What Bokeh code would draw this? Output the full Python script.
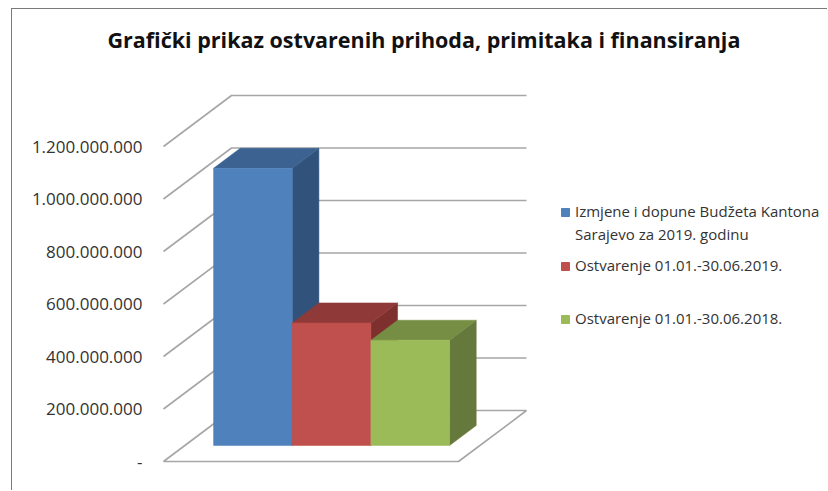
from bokeh.embed import file_html
from bokeh.resources import INLINE
from bokeh.plotting import figure
from bokeh.models import LinearAxis, FixedTicker, Range1d
from bokeh.core.properties import value

# ---- data ----
chart_title = "Grafički prikaz ostvarenih prihoda, primitaka i finansiranja"
series_names = ["Izmjene i dopune Budžeta Kantona\nSarajevo za 2019. godinu",
                "Ostvarenje 01.01.-30.06.2019.",
                "Ostvarenje 01.01.-30.06.2018."]
series_values = [1056000000, 467000000, 401000000]
tick_values = [0, 200000000, 400000000, 600000000, 800000000, 1000000000, 1200000000]
tick_labels = ["-", "200.000.000", "400.000.000", "600.000.000", "800.000.000",
               "1.000.000.000", "1.200.000.000"]
front_colors = ["#4F81BD", "#C0504D", "#9BBB59"]
top_colors = ["#3B6290", "#8F3A38", "#758E43"]
side_colors = ["#31527B", "#7D302E", "#66793C"]

# ---- layout (page pixels) ----
PAGE_W, PAGE_H = 828, 491
OX, OY = 12, 9                   # where the canvas starts, inside its CSS frame
TOP = 60
X0_PX, Y0_PX = 163, 461          # front-left floor corner, value 0
BAR_PX = 78.67                   # px per bar width
VAL_PER_PX = 200000000 / 52.5    # value per vertical pixel
DEPTH_X = 68 / BAR_PX            # full depth, in x units
DEPTH_Y = 51 * VAL_PER_PX        # full depth, in value units
FLOOR_W = 295 / BAR_PX
BAR_X0 = 0.365
BAR_D0, BAR_D1 = 0.314, 0.706
GRID = "#A6A6A6"


def px_x(px):
    return (px - X0_PX) / BAR_PX


def px_y(py):
    return (Y0_PX - py) * VAL_PER_PX


def proj(x, v, d):
    return x + d * DEPTH_X, v + d * DEPTH_Y


p = figure(width=PAGE_W - OX, height=PAGE_H - OY, output_backend="svg", toolbar_location=None,
           x_range=Range1d(px_x(OX), px_x(PAGE_W)),
           y_range=Range1d(px_y(PAGE_H), px_y(TOP)),
           x_axis_type=None, y_axis_type=None,
           min_border=0, min_border_top=TOP - OY, outline_line_color=None,
           background_fill_color="white", border_fill_color="white",
           styles={"margin-left": f"{OX - 1}px", "margin-top": f"{OY - 1}px",
                   "border-left": "1px solid #7A7A7A", "border-top": "1px solid #7A7A7A"})
p.grid.visible = False

p.title.text = chart_title
p.title.align = "left"
p.title.offset = 107 - OX
p.title.standoff = 14
p.title.text_font = "Open Sans"
p.title.text_font_style = "bold"
p.title.text_font_size = "21.5px"
p.title.text_color = "#111111"

# walls
for v in tick_values[1:]:
    a = proj(0, v, 0)
    b = proj(0, v, 1)
    c = proj(FLOOR_W, v, 1)
    p.line([a[0], b[0], c[0]], [a[1], b[1], c[1]], line_color=GRID, line_width=1.6)

# floor
corners = [proj(0, 0, 0), proj(FLOOR_W, 0, 0), proj(FLOOR_W, 0, 1), proj(0, 0, 1)]
p.patch([c[0] for c in corners], [c[1] for c in corners], fill_color="white",
        line_color=GRID, line_width=1.6)

# bars
for i, v in enumerate(series_values):
    l, r = BAR_X0 + i, BAR_X0 + i + 1
    side = [proj(r, 0, BAR_D0), proj(r, 0, BAR_D1), proj(r, v, BAR_D1), proj(r, v, BAR_D0)]
    top = [proj(l, v, BAR_D0), proj(r, v, BAR_D0), proj(r, v, BAR_D1), proj(l, v, BAR_D1)]
    front = [proj(l, 0, BAR_D0), proj(r, 0, BAR_D0), proj(r, v, BAR_D0), proj(l, v, BAR_D0)]
    for poly, col in ((side, side_colors[i]), (top, top_colors[i]), (front, front_colors[i])):
        p.patch([c[0] for c in poly], [c[1] for c in poly], fill_color=col, line_color=col,
                line_width=0.5)

# value axis
ax = LinearAxis(ticker=FixedTicker(ticks=tick_values),
                major_label_overrides={t: s for t, s in zip(tick_values, tick_labels)},
                fixed_location=px_x(153), axis_line_color=None,
                major_tick_line_color=None, minor_tick_line_color=None,
                major_label_standoff=5,
                major_label_text_font="Open Sans", major_label_text_font_size="17px",
                major_label_text_color="#333333")
p.add_layout(ax, "left")

# legend
key_y = [212, 266, 319]
for name, col, ky in zip(series_names, front_colors, key_y):
    p.scatter([px_x(565)], [px_y(ky)], marker="square", size=8, fill_color=col, line_color=col)
    for j, line in enumerate(name.split("\n")):
        p.text([px_x(574.5)], [px_y(ky - 1.5 + j * 22.5)], text=[line], text_baseline="middle",
               text_font=value("Open Sans"), text_font_size="15px", text_color="#333333")

open("out.html", "w").write(file_html(p, INLINE))
